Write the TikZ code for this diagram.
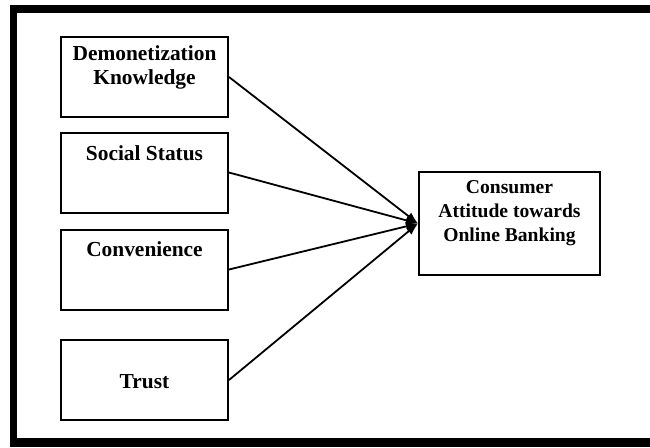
\documentclass[tikz,border=0pt]{standalone}
\usepackage{fontspec}
\setmainfont{Liberation Serif}
\usetikzlibrary{arrows.meta}
\begin{document}
\begin{tikzpicture}[x=0.5pt,y=-0.5pt,
  framebar/.style={fill=black,draw=none},
  box/.style={draw=black,line width=1pt,minimum width=83.5pt,minimum height=40pt,inner sep=0pt},
  lbl/.style={font=\fontsize{10.7}{12}\selectfont\bfseries,align=center,inner sep=0pt},
  tlbl/.style={font=\fontsize{9.8}{12}\selectfont\bfseries,align=center,inner sep=0pt},
  conn/.style={draw=black,line width=0.9pt,-{Latex[length=6pt,width=4.5pt]}}]
\useasboundingbox (0,0) rectangle (650,447);
% frame
\fill[framebar] (10,5) rectangle (650,13);
\fill[framebar] (10,5) rectangle (17,447);
\fill[framebar] (10,438) rectangle (650,447);
% left boxes
\node[box] (b1) at (144.5,77) {};
\node[box] (b2) at (144.5,172.5) {};
\node[box] (b3) at (144.5,269.5) {};
\node[box] (b4) at (144.5,380) {};
\node[lbl] (l1) at (144.5,67) {Demonetization\\Knowledge};
\node[lbl] (l2) at (144.5,153) {Social Status};
\node[lbl] (l3) at (144.5,249) {Convenience};
\node[lbl] (l4) at (144.5,382) {Trust};
% target
\node[draw=black,line width=1pt,minimum width=90.5pt,minimum height=51.5pt,inner sep=0pt] (t) at (509.5,223.5) {};
\node[tlbl] (tl) at (509.5,213) {Consumer\\Attitude towards\\Online Banking};
% connectors
\draw[conn] (b1.east) -- (t.west);
\draw[conn] (b2.east) -- (t.west);
\draw[conn] (b3.east) -- (t.west);
\draw[conn] (b4.east) -- (t.west);
\end{tikzpicture}
\end{document}
